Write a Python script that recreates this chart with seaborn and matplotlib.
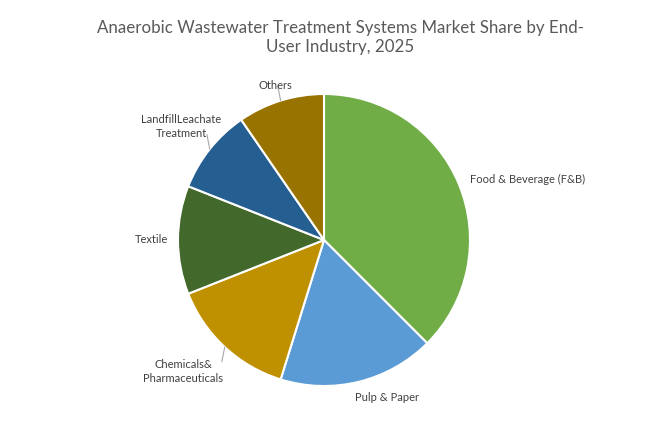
import numpy as np
import seaborn as sns
import matplotlib.pyplot as plt

sns.set_style('white')
plt.rcParams['font.family'] = ['Lato', 'DejaVu Sans']

# market share by end-user industry (%)
industries = ['Food & Beverage (F&B)', 'Pulp & Paper', 'Chemicals&\nPharmaceuticals',
              'Textile', 'LandfillLeachate\nTreatment', 'Others']
shares = [37.5, 17.3, 14.2, 12.0, 9.4, 9.6]
colors = sns.color_palette(['#70AD47', '#5B9BD5', '#BF9000', '#43682B', '#255E91', '#997300'])

# label placement (radius, angle shift from slice mid angle, alignment, leader line)
label_r = [1.08, 1.16, 1.32, 1.18, 1.25, 1.11]
label_shift = [0, 8, -4, 0, 0, 0]
label_ha = ['left', 'center', 'center', 'center', 'center', 'center']
leader = [False, False, True, False, True, True]

fig = plt.figure(figsize=(6.49, 4.24), dpi=100)
ax = fig.add_axes([105 / 649, -35 / 424, 438 / 649, 438 / 424])
wedges, _ = ax.pie(shares, colors=colors, startangle=90, counterclock=False,
                   wedgeprops=dict(edgecolor='white', linewidth=1.5))
ax.set_xlim(-1.5, 1.5)
ax.set_ylim(-1.5, 1.5)
ax.set_aspect('equal')
ax.axis('off')

for w, lab, r, sh, ha, ld in zip(wedges, industries, label_r, label_shift, label_ha, leader):
    mid = np.deg2rad((w.theta1 + w.theta2) / 2)
    ang = mid + np.deg2rad(sh)
    ax.text(r * np.cos(ang), r * np.sin(ang), lab, ha=ha, va='center', fontsize=8,
            color='#404040', linespacing=1.3)
    if ld:
        c, s = np.cos(mid), np.sin(mid)
        ax.plot([c, c - 0.02], [s, s + 0.1 * np.sign(s)], color='#A6A6A6', lw=0.8)

fig.suptitle('Anaerobic Wastewater Treatment Systems Market Share by End-\nUser Industry, 2025',
             x=0.524, y=0.953, fontsize=12.2, color='#595959', linespacing=1.25)

plt.savefig('out.png', dpi=100)
